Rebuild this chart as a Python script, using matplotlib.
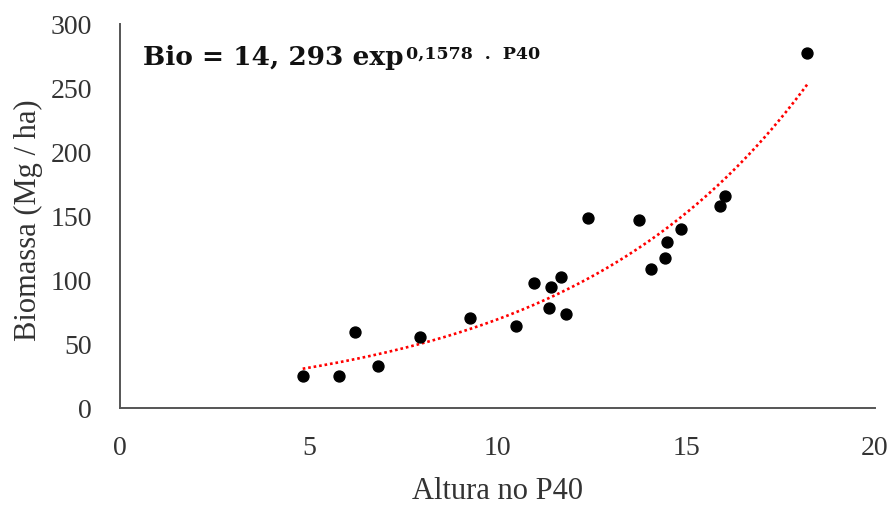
import numpy as np
import matplotlib
matplotlib.use("Agg")
import matplotlib.pyplot as plt

# dados
altura = [4.84, 5.80, 6.22, 6.83, 7.96, 9.27, 10.50, 10.96, 11.43, 11.68, 11.36,
          11.82, 12.40, 13.76, 14.07, 14.44, 14.48, 14.85, 15.90, 16.03, 18.21]
biomassa = [25, 25, 59.6, 32.8, 55.2, 70.6, 64.3, 97.4, 94.3, 102, 78.1,
            73.2, 148.7, 147.1, 108.3, 116.9, 129.4, 139.6, 157.8, 165.6, 277.1]
coef_a = 14.293
coef_b = 0.1578

plt.rcParams['font.family'] = ['Liberation Serif', 'DejaVu Serif']

fig = plt.figure(figsize=(8.93, 5.07), dpi=100)
ax = fig.add_axes([120/893, 1-408/507, 755/893, 384/507])

xs = np.linspace(min(altura), max(altura), 200)
ax.plot(xs, coef_a*np.exp(coef_b*xs), color='#ff0000', linewidth=1.9,
        linestyle=(0, (1, 1.1)), zorder=2)
ax.scatter(altura, biomassa, s=62, color='black', zorder=3)

ax.set_xlim(0, 20)
ax.set_ylim(0, 300)
ax.set_xticks([0, 5, 10, 15, 20])
ax.set_yticks([0, 50, 100, 150, 200, 250, 300])
ax.tick_params(length=0, pad=20, labelsize=20, colors='#333333')
for s in ['top', 'right']:
    ax.spines[s].set_visible(False)
for s in ['left', 'bottom']:
    ax.spines[s].set_color('#555555')
    ax.spines[s].set_linewidth(1.4)

ax.set_xlabel('Altura no P40', fontsize=22, color='#333333')
ax.set_ylabel('Biomassa (Mg / ha)', fontsize=22, color='#333333')
ax.xaxis.set_label_coords(0.5, -0.18)
ax.yaxis.set_label_coords(-0.102, 0.49)

# equacao do ajuste
eq = ax.text(0.0305, 0.893, 'Bio = 14, 293 exp', transform=ax.transAxes,
             fontfamily='DejaVu Serif', fontweight='bold', fontsize=19,
             color='#111111', va='baseline', ha='left')
ax.annotate('0,1578  .  P40', xy=(1, 1), xycoords=eq, xytext=(2, -0.5),
            textcoords='offset points', va='top', ha='left',
            fontfamily='DejaVu Serif', fontweight='bold', fontsize=12.5,
            color='#111111')

fig.savefig('out.png', dpi=100)
